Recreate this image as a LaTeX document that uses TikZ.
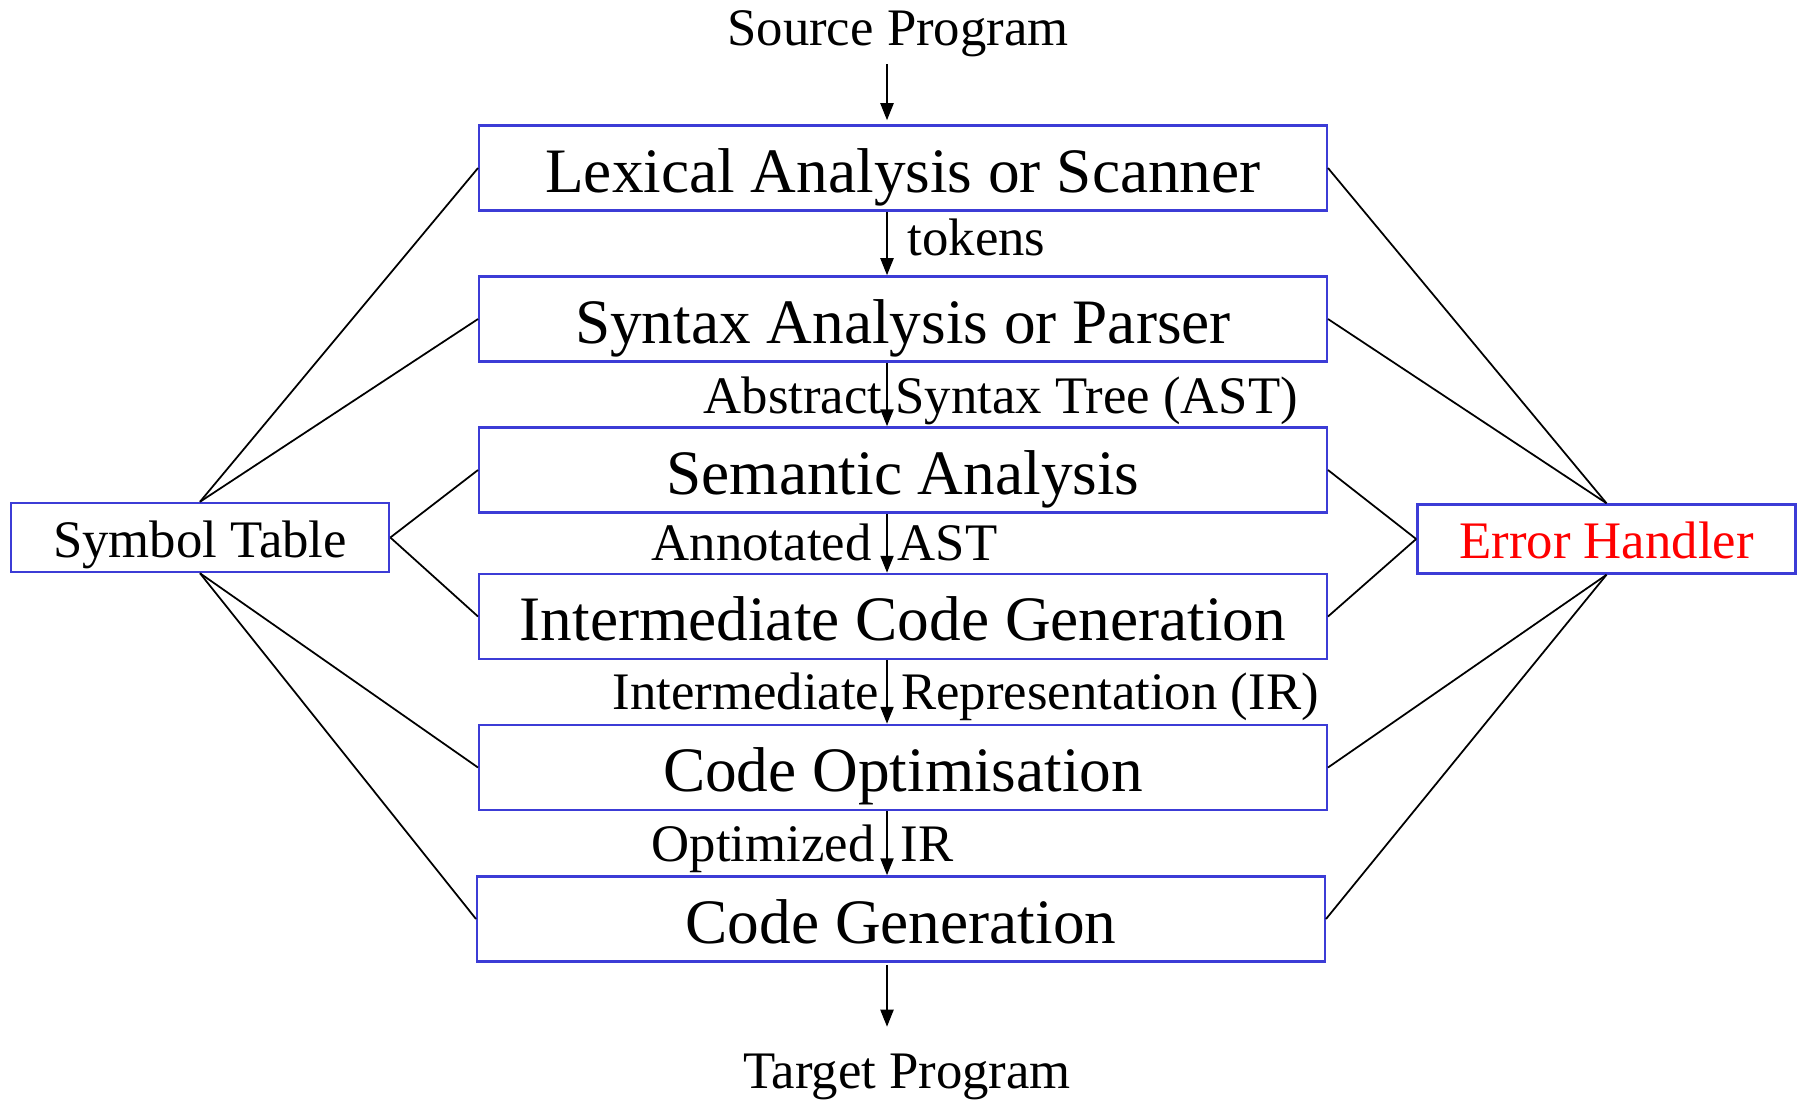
\documentclass[tikz,border=0pt]{standalone}
\usepackage{fontspec}
\setmainfont{Liberation Serif}
\usepackage{xcolor}
\definecolor{boxBlue}{HTML}{3C3CD6}
\definecolor{errRed}{HTML}{FF0000}
\usepackage{tikz}
\usetikzlibrary{calc}
\usetikzlibrary{arrows.meta}
\tikzset{
    stage/.style={draw=boxBlue, line width=0.7pt, minimum width=8.47cm, minimum height=0.85cm,
                  inner sep=0pt, text height=0.6cm, text depth=0.12cm,
                  font=\fontsize{18pt}{21pt}\selectfont},
    sidebox/.style={draw=boxBlue, line width=0.7pt, minimum width=3.78cm, minimum height=0.69cm,
                    inner sep=0pt, text height=0.5cm, text depth=0.11cm,
                    font=\fontsize{15pt}{18pt}\selectfont},
    lbl/.style={inner sep=0pt, anchor=base west, font=\fontsize{15pt}{18pt}\selectfont},
    io/.style={inner sep=2pt, anchor=base, font=\fontsize{15pt}{18pt}\selectfont},
    flow/.style={line width=0.6pt, -{Triangle[length=0.17cm,width=0.13cm]}},
    link/.style={line width=0.5pt}
}

\begin{document}
\begin{tikzpicture}[x=0.01cm, y=-0.01cm]
  % Frame (pixel grid of the reference)
  \useasboundingbox (0,0) rectangle (1800,1099);

  % Axis of the vertical arrows
  \coordinate (axis) at (887,0);

  % Input / output
  \node[io] (src) at (898,45) {Source Program};
  \node[io] (tgt) at (907,1088) {Target Program};

  % Stages
  \node[stage] (lex) at (903,168)   {Lexical Analysis or Scanner};
  \node[stage] (syn) at (903,319)   {Syntax Analysis or Parser};
  \node[stage] (sem) at (903,470)   {Semantic Analysis};
  \node[stage] (icg) at (903,616.5) {Intermediate Code Generation};
  \node[stage] (opt) at (903,767.5) {Code Optimisation};
  \node[stage] (gen) at (901,919)   {Code Generation};

  % Side boxes
  \node[sidebox] (sym) at (200,537.5) {Symbol Table};
  \node[sidebox, text=errRed] (err) at (1606.5,539) {Error Handler};

  % Flow arrows
  \draw[flow, shorten >=0.04cm] (src.south -| axis) -- (lex.north -| axis);
  \draw[flow] (lex.south -| axis) -- (syn.north -| axis);
  \draw[flow] (syn.south -| axis) -- (sem.north -| axis);
  \draw[flow] (sem.south -| axis) -- (icg.north -| axis);
  \draw[flow] (icg.south -| axis) -- (opt.north -| axis);
  \draw[flow] (opt.south -| axis) -- (gen.north -| axis);
  \draw[flow, shorten <=0.02cm, shorten >=0.19cm] (gen.south -| axis) -- (tgt.north -| axis);

  % Arrow labels
  \node[lbl] (tok) at (907,255) {tokens};
  \node[lbl] (ast) at (703,413) {Abstract Syntax Tree (AST)};
  \node[lbl] (aast) at (651,560) {Annotated~~AST};
  \node[lbl] (irl) at (612,709) {Intermediate~\,Representation (IR)};
  \node[lbl] (oir) at (651,861) {Optimized~~IR};

  % Symbol table links
  \foreach \s in {lex,syn}{ \draw[link] (sym.north) -- (\s.west); }
  \foreach \s in {sem,icg}{ \draw[link] (sym.east) -- (\s.west); }
  \foreach \s in {opt,gen}{ \draw[link] (sym.south) -- (\s.west); }

  % Error handler links
  \foreach \s in {lex,syn}{ \draw[link] (err.north) -- (\s.east); }
  \foreach \s in {sem,icg}{ \draw[link] (err.west) -- (\s.east); }
  \foreach \s in {opt,gen}{ \draw[link] (err.south) -- (\s.east); }

\end{tikzpicture}
\end{document}
